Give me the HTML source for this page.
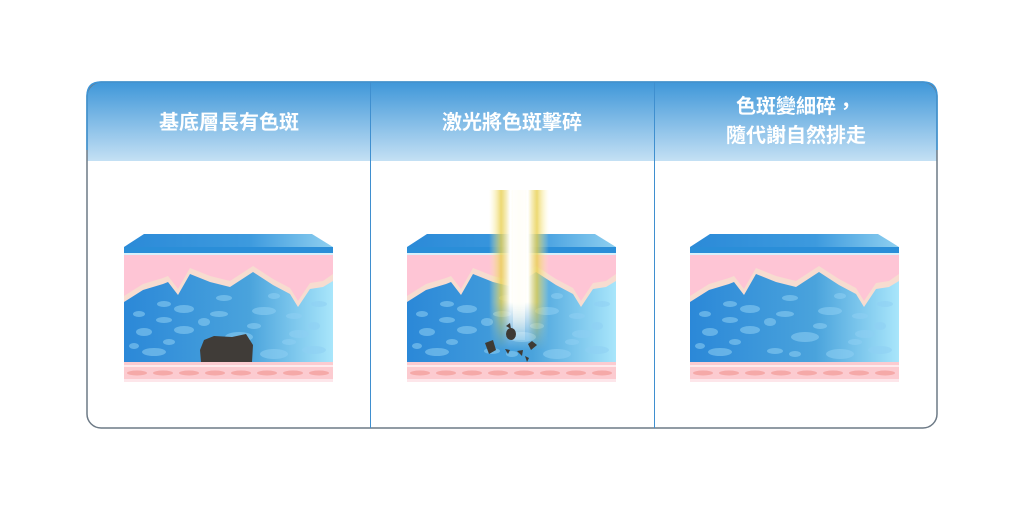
<!DOCTYPE html>
<html><head><meta charset="utf-8"><style>
body{margin:0;width:1024px;height:512px;background:#fff;overflow:hidden;font-family:"Liberation Sans","Noto Sans CJK TC",sans-serif}
</style></head><body>
<svg width="1024" height="512" viewBox="0 0 1024 512" xmlns="http://www.w3.org/2000/svg">
<defs>
<linearGradient id="hd" x1="0" y1="0" x2="0" y2="1"><stop offset="0" stop-color="#3f97d9"/><stop offset="1" stop-color="#c4e0f4"/></linearGradient>
<linearGradient id="body" x1="0" y1="0" x2="1" y2="0"><stop offset="0" stop-color="#2b88d8"/><stop offset="0.6" stop-color="#4aa3dc"/><stop offset="1" stop-color="#a9e6fb"/></linearGradient>
<linearGradient id="top" x1="0" y1="0" x2="1" y2="0"><stop offset="0" stop-color="#2b8ad8"/><stop offset="0.6" stop-color="#3d9ade"/><stop offset="1" stop-color="#8fd0f0"/></linearGradient>
<linearGradient id="beam" x1="0" y1="0" x2="1" y2="0"><stop offset="0" stop-color="#fff6b0" stop-opacity="0"/><stop offset="0.2" stop-color="#e8d050" stop-opacity="0.8"/><stop offset="0.35" stop-color="#fff" /><stop offset="0.5" stop-color="#fffde8"/><stop offset="0.65" stop-color="#fff"/><stop offset="0.8" stop-color="#e8d050" stop-opacity="0.8"/><stop offset="1" stop-color="#fff6b0" stop-opacity="0"/></linearGradient>
<linearGradient id="fade" x1="0" y1="0" x2="0" y2="1"><stop offset="0" stop-color="#fff" stop-opacity="1"/><stop offset="0.7" stop-color="#fff" stop-opacity="1"/><stop offset="1" stop-color="#fff" stop-opacity="0"/></linearGradient>
<mask id="bm"><rect x="0" y="0" width="60" height="160" fill="url(#fade)"/></mask>
<g id="skin">
<polygon points="0,13 20,0 188,0 209,13" fill="url(#top)"/>
<rect x="0" y="13" width="209" height="6" fill="#2a8ed8"/>
<rect x="0" y="19" width="209" height="2" fill="#d8f0fb"/>
<rect x="0" y="21" width="209" height="107" fill="#fec5d5"/>
<path d="M0,62 L19,50 L39,44 L44,42 L54,55 L66,34 L86,42 L106,47 L129,32 L149,45 L166,54 L174,67 L186,49 L199,47 L209,40 L209,128 L0,128Z" fill="#f7dcd0"/>
<path d="M0,68 L19,56 L39,50 L44,48 L54,61 L66,40 L86,48 L106,53 L129,38 L149,51 L166,60 L174,73 L186,55 L199,53 L209,47 L209,128 L0,128Z" fill="url(#body)"/>
<g fill="#8fd0f4" opacity="0.55">
<ellipse cx="60" cy="75" rx="10" ry="4"/><ellipse cx="95" cy="80" rx="9" ry="3"/><ellipse cx="140" cy="77" rx="12" ry="4"/><ellipse cx="20" cy="98" rx="8" ry="4"/><ellipse cx="60" cy="96" rx="10" ry="4"/><ellipse cx="115" cy="103" rx="14" ry="5"/><ellipse cx="175" cy="100" rx="10" ry="4"/><ellipse cx="30" cy="118" rx="12" ry="4"/><ellipse cx="150" cy="120" rx="14" ry="5"/><ellipse cx="190" cy="116" rx="12" ry="4"/><ellipse cx="85" cy="117" rx="8" ry="3"/><ellipse cx="40" cy="70" rx="7" ry="3"/><ellipse cx="170" cy="82" rx="8" ry="3"/><ellipse cx="130" cy="92" rx="7" ry="3"/>
<ellipse cx="15" cy="80" rx="6" ry="3"/><ellipse cx="40" cy="86" rx="8" ry="3"/><ellipse cx="80" cy="88" rx="6" ry="4"/><ellipse cx="100" cy="64" rx="8" ry="3"/><ellipse cx="150" cy="62" rx="6" ry="3"/><ellipse cx="195" cy="70" rx="8" ry="3"/><ellipse cx="190" cy="92" rx="6" ry="4"/><ellipse cx="45" cy="108" rx="6" ry="3"/><ellipse cx="165" cy="108" rx="7" ry="3"/><ellipse cx="105" cy="120" rx="6" ry="3"/><ellipse cx="10" cy="112" rx="5" ry="3"/>
</g>
<rect x="0" y="128" width="209" height="20" fill="#fccbd0"/>
<rect x="0" y="131" width="209" height="2" fill="#fff" opacity="0.6"/>
<g fill="#f5a9a8">
<ellipse cx="13" cy="139" rx="10" ry="2.5"/><ellipse cx="39" cy="139" rx="10" ry="2.5"/><ellipse cx="65" cy="139" rx="10" ry="2.5"/><ellipse cx="91" cy="139" rx="10" ry="2.5"/><ellipse cx="117" cy="139" rx="10" ry="2.5"/><ellipse cx="143" cy="139" rx="10" ry="2.5"/><ellipse cx="169" cy="139" rx="10" ry="2.5"/><ellipse cx="195" cy="139" rx="10" ry="2.5"/>
</g>
<rect x="0" y="145" width="209" height="3" fill="#fde6ea"/>
</g>
</defs>
<path d="M101,82 H923 Q937,82 937,96 V161 H87 V96 Q87,82 101,82Z" fill="url(#hd)"/>
<rect x="87" y="82" width="850" height="346" rx="14" fill="none" stroke="#6d7a86" stroke-width="1.5"/>
<path d="M87,150 V96 Q87,82 101,82 H923 Q937,82 937,96 V150" fill="none" stroke="#3d95d8" stroke-width="1.5"/>
<line x1="370.5" y1="82" x2="370.5" y2="428" stroke="#3f8fcf" stroke-width="1"/>
<line x1="654.5" y1="82" x2="654.5" y2="428" stroke="#3f8fcf" stroke-width="1"/>
<g fill="#fff" font-size="20" font-weight="bold" text-anchor="middle" font-family="Liberation Sans,Noto Sans CJK TC,sans-serif">
<text x="229" y="129">基底層長有色斑</text>
<text x="512" y="129">激光將色斑擊碎</text>
<text x="796" y="113">色斑變細碎，</text>
<text x="796" y="142">隨代謝自然排走</text>
</g>
<use href="#skin" transform="translate(124,234)"/>
<use href="#skin" transform="translate(407,234)"/>
<use href="#skin" transform="translate(690,234)"/>
<path d="M204,340 L214,336 L232,337 L246,334 L253,345 L252,362 L201,362 L200,350Z" fill="#403c38"/>
<g transform="translate(489,190)">
<rect x="0" y="0" width="60" height="160" fill="url(#beam)" mask="url(#bm)"/>
<rect x="24" y="0" width="12" height="150" fill="#fff" opacity="0.7" mask="url(#bm)"/>
</g>
<g fill="#3e3a34">
<polygon points="485,343 493,340 496,350 489,354"/><ellipse cx="511" cy="334" rx="5" ry="6"/><polygon points="532,341 537,345 531,350 528,344"/><polygon points="505,349 510,350 508,354"/><polygon points="517,351 523,350 522,356"/><polygon points="525,356 529,358 527,362"/><polygon points="506,326 510,323 511,329"/>
</g>
</svg>
</body></html>
